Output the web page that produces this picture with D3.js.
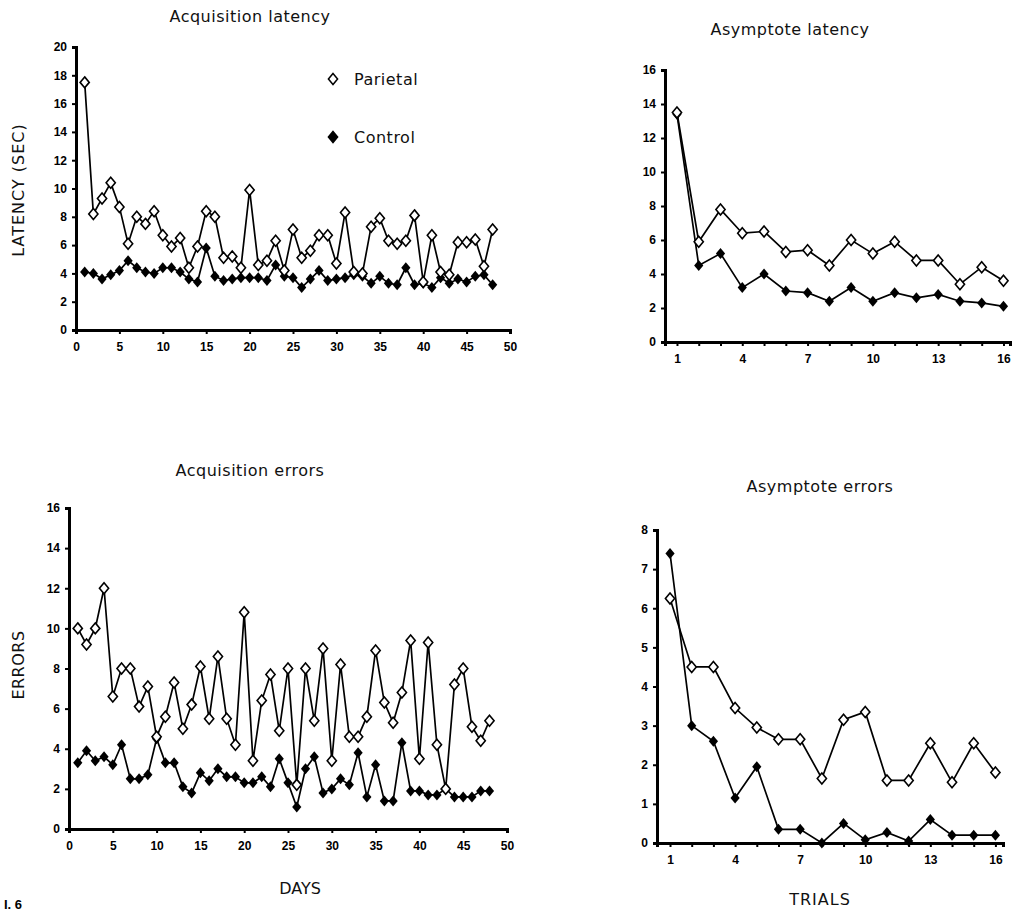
<!DOCTYPE html>
<html>
<head>
<meta charset="utf-8">
<script src="https://cdn.jsdelivr.net/npm/d3@7"></script>
<style>
  body { margin: 0; background: #fff; }
  svg { display: block; }
  .tick text { font-family: "Liberation Sans Narrow", "Liberation Sans", Arial, sans-serif; font-weight: bold; font-size: 12px; fill: #000; }
  .title, .axis-title, .legend text { font-family: "DejaVu Sans", "Noto Sans", sans-serif; fill: #111; }
</style>
</head>
<body>
<svg width="1019" height="912"></svg>
<script>
// values
const days = d3.range(1, 49)
const trials = d3.range(1, 17)

const acqLatParietal = [17.5, 8.2, 9.3, 10.4, 8.7, 6.1, 8.0, 7.5, 8.4, 6.7, 5.9, 6.5, 4.4, 5.9, 8.4, 8.0, 5.1, 5.2, 4.4, 9.9, 4.6, 4.9, 6.3, 4.2,
  7.1, 5.1, 5.6, 6.7, 6.7, 4.7, 8.3, 4.1, 4.0, 7.3, 7.9, 6.3, 6.1, 6.3, 8.1, 3.4, 6.7, 4.1, 3.9, 6.2, 6.2, 6.4, 4.5, 7.1]
const acqLatControl = [4.1, 4.0, 3.6, 3.9, 4.2, 4.9, 4.4, 4.1, 4.0, 4.4, 4.4, 4.1, 3.6, 3.4, 5.8, 3.8, 3.5, 3.6, 3.7, 3.7, 3.7, 3.5, 4.6, 3.8,
  3.7, 3.0, 3.6, 4.2, 3.5, 3.6, 3.7, 3.9, 3.8, 3.3, 3.8, 3.3, 3.2, 4.4, 3.2, 3.3, 3.0, 3.7, 3.3, 3.6, 3.4, 3.8, 3.9, 3.2]

const asyLatParietal = [13.5, 5.9, 7.8, 6.4, 6.5, 5.3, 5.4, 4.5, 6.0, 5.2, 5.9, 4.8, 4.8, 3.4, 4.4, 3.6]
const asyLatControl = [13.4, 4.5, 5.2, 3.2, 4.0, 3.0, 2.9, 2.4, 3.2, 2.4, 2.9, 2.6, 2.8, 2.4, 2.3, 2.1]

const acqErrParietal = [10.0, 9.2, 10.0, 12.0, 6.6, 8.0, 8.0, 6.1, 7.1, 4.6, 5.6, 7.3, 5.0, 6.2, 8.1, 5.5, 8.6, 5.5, 4.2, 10.8, 3.4, 6.4, 7.7, 4.9,
  8.0, 2.2, 8.0, 5.4, 9.0, 3.4, 8.2, 4.6, 4.6, 5.6, 8.9, 6.3, 5.3, 6.8, 9.4, 3.5, 9.3, 4.2, 2.0, 7.2, 8.0, 5.1, 4.4, 5.4]
const acqErrControl = [3.3, 3.9, 3.4, 3.6, 3.2, 4.2, 2.5, 2.5, 2.7, 4.5, 3.3, 3.3, 2.1, 1.8, 2.8, 2.4, 3.0, 2.6, 2.6, 2.3, 2.3, 2.6, 2.1, 3.5,
  2.3, 1.1, 3.0, 3.6, 1.8, 2.0, 2.5, 2.2, 3.8, 1.6, 3.2, 1.4, 1.4, 4.3, 1.9, 1.9, 1.7, 1.7, 2.0, 1.6, 1.6, 1.6, 1.9, 1.9]

const asyErrParietal = [6.25, 4.5, 4.5, 3.45, 2.95, 2.65, 2.65, 1.65, 3.15, 3.35, 1.6, 1.6, 2.55, 1.55, 2.55, 1.8]
const asyErrControl = [7.4, 3.0, 2.6, 1.15, 1.95, 0.35, 0.35, 0.0, 0.5, 0.08, 0.27, 0.05, 0.6, 0.2, 0.2, 0.2]

const dayTicks = d3.range(0, 51, 5)
const trialLabels = [1, 4, 7, 10, 13, 16]

const svg = d3.select('svg')

// diamond marker, a bit taller than wide like the original
const diamond = 'M0,-5.5L4.6,0L0,5.5L-4.6,0Z'

// draws one panel: axes, two series, title
function drawPanel(p) {
  const x = d3.scaleLinear().domain(p.xDomain).range([p.left, p.right])
  const y = d3.scaleLinear().domain([0, p.yMax]).range([p.bottom, p.top])
  const g = svg.append('g')

  const xAxis = d3.axisBottom(x).tickSizeOuter(0).tickSize(4).tickPadding(8)
  if (p.trials) {
    xAxis.tickValues(trials).tickFormat(d => trialLabels.includes(d) ? d : '')
  } else {
    xAxis.tickValues(dayTicks).tickFormat(d3.format('d'))
  }
  g.append('g')
    .attr('transform', `translate(0, ${p.bottom})`)
    .call(xAxis)

  g.append('g')
    .attr('transform', `translate(${p.left}, 0)`)
    .call(d3.axisLeft(y).tickValues(d3.range(0, p.yMax + 1, p.yStep)).tickSizeOuter(0).tickSize(4).tickPadding(5))

  g.selectAll('.domain').attr('stroke', '#000').attr('stroke-width', 3)
  g.selectAll('.tick line').attr('stroke', '#000').attr('stroke-width', 2)

  const line = d3.line()
    .x((d, i) => x(p.xs[i]))
    .y(d => y(d))

  ;[p.control, p.parietal].forEach(series => {
    g.append('path')
      .datum(series)
      .attr('d', line)
      .attr('fill', 'none')
      .attr('stroke', '#000')
      .attr('stroke-width', 1.7)
  })

  // control: filled diamonds, parietal: open diamonds on top
  g.selectAll('path.ctl')
    .data(p.control)
    .enter()
    .append('path')
    .attr('class', 'ctl')
    .attr('d', diamond)
    .attr('transform', (d, i) => `translate(${x(p.xs[i])}, ${y(d)})`)
    .attr('fill', '#000')

  g.selectAll('path.par')
    .data(p.parietal)
    .enter()
    .append('path')
    .attr('class', 'par')
    .attr('d', diamond)
    .attr('transform', (d, i) => `translate(${x(p.xs[i])}, ${y(d)})`)
    .attr('fill', '#fff')
    .attr('stroke', '#000')
    .attr('stroke-width', 1.6)

  svg.append('text')
    .attr('class', 'title')
    .attr('x', p.titleX)
    .attr('y', p.titleY)
    .attr('text-anchor', 'middle')
    .style('font-size', '16px')
    .style('letter-spacing', '0.5px')
    .text(p.title)
}

drawPanel({
  title: 'Acquisition latency', titleX: 250, titleY: 22,
  left: 76, right: 510, top: 47, bottom: 330,
  xDomain: [0, 50], yMax: 20, yStep: 2,
  xs: days, parietal: acqLatParietal, control: acqLatControl
})

drawPanel({
  title: 'Asymptote latency', titleX: 790, titleY: 35,
  left: 665, right: 1010, top: 70, bottom: 342,
  xDomain: [0.45, 16.3], yMax: 16, yStep: 2, trials: true,
  xs: trials, parietal: asyLatParietal, control: asyLatControl
})

drawPanel({
  title: 'Acquisition errors', titleX: 250, titleY: 476,
  left: 69, right: 507, top: 508, bottom: 829,
  xDomain: [0, 50], yMax: 16, yStep: 2,
  xs: days, parietal: acqErrParietal, control: acqErrControl
})

drawPanel({
  title: 'Asymptote errors', titleX: 820, titleY: 492,
  left: 657, right: 1003, top: 530, bottom: 843,
  xDomain: [0.4, 16.35], yMax: 8, yStep: 1, trials: true,
  xs: trials, parietal: asyErrParietal, control: asyErrControl
})

// axis titles
svg.append('text')
  .attr('class', 'axis-title')
  .attr('transform', 'translate(24, 190) rotate(-90)')
  .attr('text-anchor', 'middle')
  .style('font-size', '16px')
  .style('letter-spacing', '1px')
  .text('LATENCY (SEC)')

svg.append('text')
  .attr('class', 'axis-title')
  .attr('transform', 'translate(24, 665) rotate(-90)')
  .attr('text-anchor', 'middle')
  .style('font-size', '16px')
  .style('letter-spacing', '0.5px')
  .text('ERRORS')

svg.append('text')
  .attr('class', 'axis-title')
  .attr('x', 300).attr('y', 894)
  .attr('text-anchor', 'middle')
  .style('font-size', '16px')
  .text('DAYS')

svg.append('text')
  .attr('class', 'axis-title')
  .attr('x', 820).attr('y', 905)
  .attr('text-anchor', 'middle')
  .style('font-size', '16px')
  .style('letter-spacing', '1px')
  .text('TRIALS')

// legend inside the first panel
const legend = svg.append('g').attr('class', 'legend')
const legendItems = [['Parietal', '#fff', 79], ['Control', '#000', 137]]
legendItems.forEach(([name, fill, ly]) => {
  legend.append('path')
    .attr('d', diamond)
    .attr('transform', `translate(333, ${ly})`)
    .attr('fill', fill)
    .attr('stroke', '#000')
    .attr('stroke-width', 1.5)
  legend.append('text')
    .attr('x', 354).attr('y', ly + 6)
    .style('font-size', '16px')
    .style('letter-spacing', '0.5px')
    .text(name)
})

// figure number at the bottom-left corner
svg.append('text')
  .attr('x', 4).attr('y', 909)
  .attr('fill', '#000')
  .style('font-family', '"Liberation Sans", Arial, sans-serif')
  .style('font-weight', 'bold')
  .style('font-size', '13px')
  .text('I. 6')
</script>
</body>
</html>
